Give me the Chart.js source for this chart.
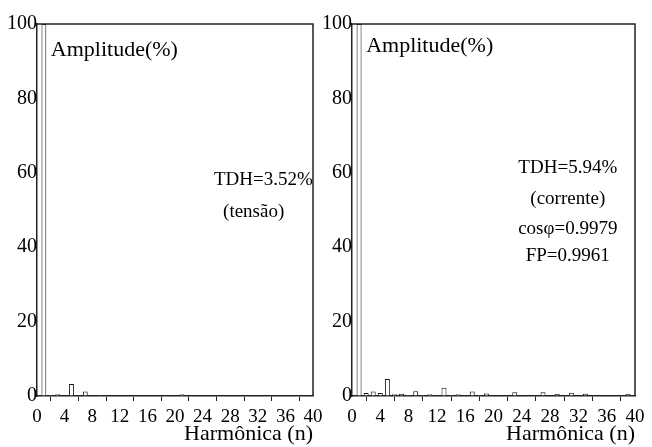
<!DOCTYPE html>
<html>
<head>
<meta charset="utf-8">
<script src="https://cdn.jsdelivr.net/npm/chart.js@4"></script>
<style>
  body { margin: 0; background: #fff; }
  .panel { position: absolute; top: 0; height: 447px; }
  #p1 { left: 0; width: 330px; }
  #p2 { left: 322px; width: 330px; }
</style>
</head>
<body>
<div class="panel" id="p1"><canvas id="tensao"></canvas></div>
<div class="panel" id="p2"><canvas id="corrente"></canvas></div>
<script>
// harmonic order n
const harmonics = [1, 2, 3, 4, 5, 6, 7, 8, 9, 10, 11, 12, 13, 14, 15, 16, 17, 18, 19, 20,
  21, 22, 23, 24, 25, 26, 27, 28, 29, 30, 31, 32, 33, 34, 35, 36, 37, 38, 39, 40];

// voltage spectrum (%)
const tensaoValues = [100, 0.3, 0.5, 0.2, 3.2, 0.2, 1.2, 0.2, 0.3, 0.2, 0.2, 0.2, 0.2, 0.2, 0.2, 0.2, 0.2, 0.2, 0.2, 0.2,
  0.5, 0.2, 0.2, 0.2, 0.2, 0.2, 0.2, 0.2, 0.2, 0.2, 0.2, 0.2, 0.2, 0.2, 0.2, 0.2, 0.2, 0.2, 0.2, 0.2];

// current spectrum (%)
const correnteValues = [100, 0.8, 1.2, 0.8, 4.6, 0.5, 0.6, 0.3, 1.3, 0.3, 0.5, 0.2, 2.2, 0.3, 0.5, 0.2, 1.2, 0.3, 0.7, 0.2,
  0.2, 0.2, 1.0, 0.2, 0.2, 0.2, 1.0, 0.2, 0.6, 0.2, 0.9, 0.2, 0.6, 0.2, 0.2, 0.2, 0.2, 0.2, 0.6, 0.2];

const xTicks = [0, 4, 8, 12, 16, 20, 24, 28, 32, 36, 40];
const yTicks = [0, 20, 40, 60, 80, 100];

const tensaoNotes = [
  { text: 'TDH=3.52%', x: 32.8, y: 58 },
  { text: '(tensão)', x: 31.4, y: 49.5 }
];
const correnteNotes = [
  { text: 'TDH=5.94%', x: 30.5, y: 61.3 },
  { text: '(corrente)', x: 30.5, y: 53 },
  { text: 'cosφ=0.9979', x: 30.5, y: 45 },
  { text: 'FP=0.9961', x: 30.5, y: 37.6 }
];

const serif = "'Liberation Serif', 'DejaVu Serif', serif";

// box round the plot + text notes
const boxPlugin = {
  id: 'box',
  afterDraw(chart, args, opts) {
    const { ctx, chartArea: a, scales } = chart;
    ctx.save();
    ctx.strokeStyle = '#222';
    ctx.lineWidth = 1.5;
    ctx.beginPath();
    ctx.moveTo(a.left, a.top);
    ctx.lineTo(a.right, a.top);
    ctx.lineTo(a.right, a.bottom);
    ctx.stroke();

    ctx.fillStyle = '#000';
    ctx.textBaseline = 'middle';
    ctx.textAlign = 'left';
    ctx.font = '22px ' + serif;
    ctx.fillText('Amplitude(%)', scales.x.getPixelForValue(2), scales.y.getPixelForValue(opts.ampY));
    ctx.font = '19px ' + serif;
    ctx.textAlign = 'center';
    opts.notes.forEach(n => {
      ctx.fillText(n.text, scales.x.getPixelForValue(n.x), scales.y.getPixelForValue(n.y));
    });
    ctx.restore();
  }
};

function makeChart(id, values, yWidth, notes, ampY) {
  const data = harmonics.map((n, i) => ({ x: n, y: values[i] }));
  return new Chart(document.getElementById(id), {
    type: 'bar',
    data: {
      datasets: [{
        data: data,
        backgroundColor: '#fff',
        borderColor: '#111',
        borderWidth: 1,
        categoryPercentage: 1,
        barPercentage: 0.7
      }]
    },
    options: {
      responsive: true,
      maintainAspectRatio: false,
      animation: false,
      layout: { padding: { left: 0, right: 17, top: 24, bottom: 0 } },
      plugins: {
        legend: { display: false },
        tooltip: { enabled: false },
        box: { notes: notes, ampY: ampY }
      },
      scales: {
        x: {
          type: 'linear',
          offset: false,
          min: 0,
          max: 40,
          afterBuildTicks: s => { s.ticks = xTicks.map(v => ({ value: v })); },
          afterFit: s => { s.height = 51; },
          border: { color: '#222', width: 1.5 },
          grid: { drawOnChartArea: false, tickLength: 5, color: '#222' },
          ticks: { color: '#000', padding: 5, maxRotation: 0, autoSkip: false, font: { family: serif, size: 19 } },
          title: {
            display: true, text: 'Harmônica (n)', align: 'end', color: '#000',
            padding: { top: 0, bottom: 0 }, font: { family: serif, size: 22 }
          }
        },
        y: {
          min: 0,
          max: 100,
          afterBuildTicks: s => { s.ticks = yTicks.map(v => ({ value: v })); },
          afterFit: s => { s.width = yWidth; },
          border: { color: '#222', width: 1.5 },
          grid: { display: true, drawOnChartArea: false, tickLength: 0 },
          ticks: { color: '#000', padding: 0, font: { family: serif, size: 20 } }
        }
      }
    },
    plugins: [boxPlugin]
  });
}

makeChart('tensao', tensaoValues, 37, tensaoNotes, 93);
makeChart('corrente', correnteValues, 30, correnteNotes, 94);
</script>
</body>
</html>
